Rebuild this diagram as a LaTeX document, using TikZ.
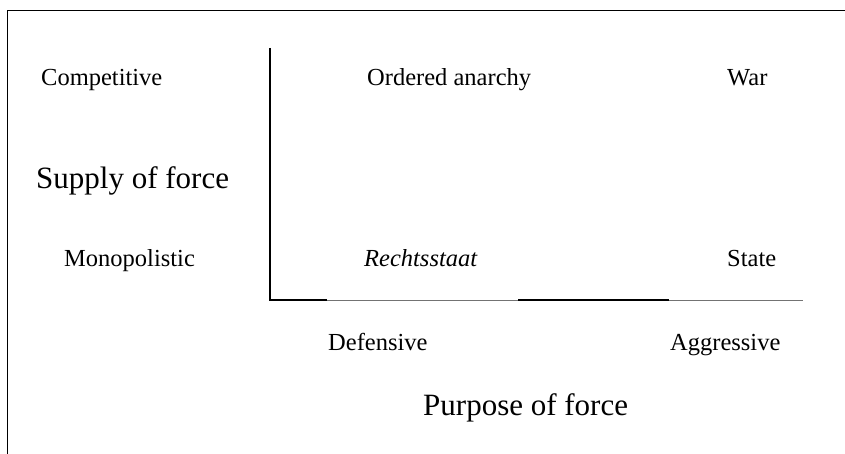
\documentclass[tikz,border=0pt]{standalone}
\usepackage{fontspec}
\setmainfont{Liberation Serif}
\begin{document}
\begin{tikzpicture}[x=1pt,y=-1pt,
  lab/.style={font=\fontsize{24.5}{28}\selectfont, inner sep=0pt, anchor=base west},
  big/.style={font=\fontsize{31}{34}\selectfont, inner sep=0pt, anchor=base west},
  border/.style={line width=1.5pt, black},
  axis/.style={line width=1.5pt, black},
  thin/.style={line width=0.9pt, black!55}]
\useasboundingbox (0,0) rectangle (845,454);
% frame
\coordinate (tl) at (7.3,10.7);
\coordinate (tr) at (845,10.7);
\coordinate (bl) at (7.3,454);
\draw[border] (tr) -- (tl) -- (bl);
% axes
\coordinate (vtop) at (270,48);
\coordinate (origin) at (270,300);
\coordinate (a1) at (327,300);
\coordinate (a2) at (518,300);
\coordinate (a3) at (669,300);
\coordinate (aend) at (803,300);
\draw[thin] (origin) -- (aend);
\draw[axis] (vtop) -- (origin) -- (a1);
\draw[axis] (a2) -- (a3);
% labels
\node[lab] (comp) at (41,86) {Competitive};
\node[lab] (oa) at (367,86) {Ordered anarchy};
\node[lab] (war) at (727,86) {War};
\node[big] (supply) at (36,189) {Supply of force};
\node[lab] (mono) at (64,266) {Monopolistic};
\node[lab] (recht) at (364,266) {\textit{Rechtsstaat}};
\node[lab] (state) at (727,266) {State};
\node[lab] (def) at (328,350) {Defensive};
\node[lab] (agg) at (670,350) {Aggressive};
\node[big] (purpose) at (423,415) {Purpose of force};
\end{tikzpicture}
\end{document}
